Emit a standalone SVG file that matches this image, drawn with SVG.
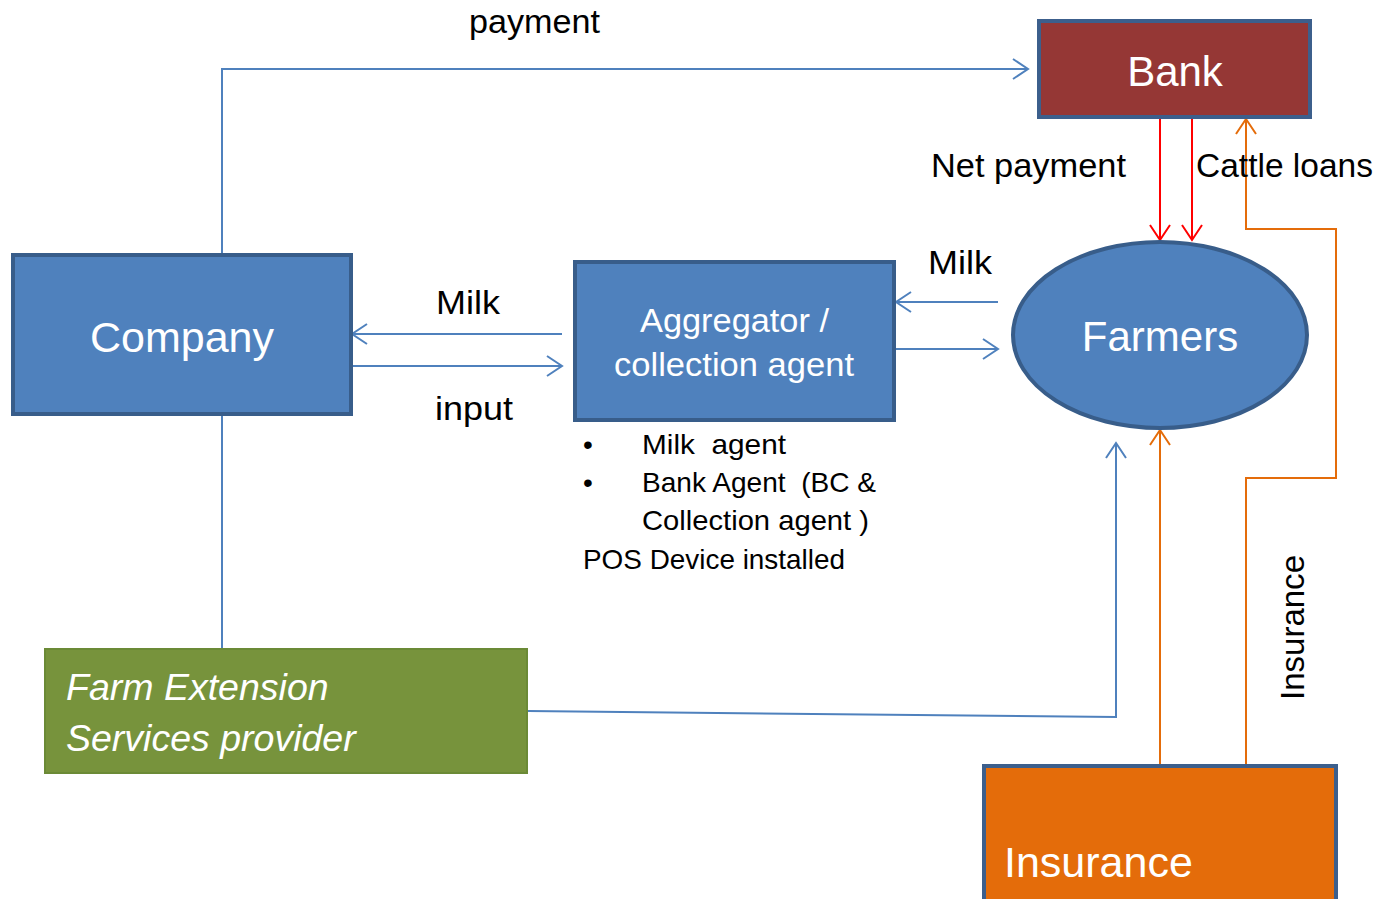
<svg xmlns="http://www.w3.org/2000/svg" width="1376" height="899" viewBox="0 0 1376 899">
<style>
.lbl{font-family:"Liberation Sans","Open Sans",sans-serif;fill:#000;font-size:34px}
.bul{font-family:"Liberation Sans","Open Sans",sans-serif;fill:#000;font-size:28px;white-space:pre}
.wt{font-family:"Liberation Sans","Open Sans",sans-serif;fill:#fff}
.blue{stroke:#4F81BD;stroke-width:2;fill:none}
.red{stroke:#FF0000;stroke-width:2;fill:none}
.org{stroke:#E46C0A;stroke-width:2;fill:none}
</style>
<defs>
<marker id="ab" markerUnits="userSpaceOnUse" markerWidth="20" markerHeight="24" refX="17" refY="11" orient="auto"><path d="M2,1 L17,11 L2,21" fill="none" stroke="#4F81BD" stroke-width="2"/></marker>
<marker id="ar" markerUnits="userSpaceOnUse" markerWidth="20" markerHeight="24" refX="17" refY="11" orient="auto"><path d="M2,1 L17,11 L2,21" fill="none" stroke="#FF0000" stroke-width="2"/></marker>
<marker id="ao" markerUnits="userSpaceOnUse" markerWidth="20" markerHeight="24" refX="17" refY="11" orient="auto"><path d="M2,1 L17,11 L2,21" fill="none" stroke="#E46C0A" stroke-width="2"/></marker>
</defs>
<rect width="1376" height="899" fill="#fff"/>
<g id="connectors">
<polyline class="blue" points="222,255 222,69 1028,69" marker-end="url(#ab)"/>
<line class="blue" x1="222" y1="414" x2="222" y2="648"/>
<line class="blue" x1="562" y1="334" x2="352" y2="334" marker-end="url(#ab)"/>
<line class="blue" x1="352" y1="366" x2="562" y2="366" marker-end="url(#ab)"/>
<line class="blue" x1="998" y1="302" x2="896" y2="302" marker-end="url(#ab)"/>
<line class="blue" x1="894" y1="349" x2="998" y2="349" marker-end="url(#ab)"/>
<polyline class="blue" points="528,711 1116,717 1116,443" marker-end="url(#ab)"/>
<line class="red" x1="1160" y1="118" x2="1160" y2="240" marker-end="url(#ar)"/>
<line class="red" x1="1192" y1="118" x2="1192" y2="240" marker-end="url(#ar)"/>
<polyline class="org" points="1246,765 1246,478 1336,478 1336,229 1246,229 1246,119" marker-end="url(#ao)"/>
<line class="org" x1="1160" y1="765" x2="1160" y2="430" marker-end="url(#ao)"/>
<text class="lbl" font-size="31" x="469" y="33" textLength="131" lengthAdjust="spacingAndGlyphs">payment</text>
<text class="lbl" x="436" y="314" textLength="64" lengthAdjust="spacingAndGlyphs">Milk</text>
<text class="lbl" x="435" y="420" textLength="78" lengthAdjust="spacingAndGlyphs">input</text>
<text class="lbl" x="928" y="274" textLength="64" lengthAdjust="spacingAndGlyphs">Milk</text>
<text class="lbl" x="931" y="177" textLength="195" lengthAdjust="spacingAndGlyphs">Net payment</text>
<text class="lbl" x="1196" y="177" textLength="177" lengthAdjust="spacingAndGlyphs">Cattle loans</text>
<text class="lbl" transform="translate(1304,700) rotate(-90)" textLength="145" lengthAdjust="spacingAndGlyphs">Insurance</text>
</g>
<g id="bank">
<rect x="1039" y="21" width="271" height="96" fill="#953735" stroke="#3C5F8C" stroke-width="4"/>
<text class="wt" x="1175" y="86" font-size="42" text-anchor="middle">Bank</text>
</g>
<g id="company">
<rect x="13" y="255" width="338" height="159" fill="#4F81BD" stroke="#385D8A" stroke-width="4"/>
<text class="wt" x="182" y="352" font-size="43" text-anchor="middle">Company</text>
</g>
<g id="aggregator">
<rect x="575" y="262" width="319" height="158" fill="#4F81BD" stroke="#385D8A" stroke-width="4"/>
<text class="wt" x="640" y="332" font-size="34" textLength="189" lengthAdjust="spacingAndGlyphs">Aggregator /</text>
<text class="wt" x="614" y="376" font-size="34" textLength="240" lengthAdjust="spacingAndGlyphs">collection agent</text>
</g>
<g id="farmers">
<ellipse cx="1160" cy="335" rx="147" ry="93" fill="#4F81BD" stroke="#385D8A" stroke-width="4"/>
<text class="wt" x="1160" y="351" font-size="42" text-anchor="middle">Farmers</text>
</g>
<g id="agent-notes">
<text class="bul" x="583" y="454">•</text>
<text class="bul" x="642" y="454" textLength="144" lengthAdjust="spacingAndGlyphs">Milk  agent</text>
<text class="bul" x="583" y="492">•</text>
<text class="bul" x="642" y="492" textLength="234" lengthAdjust="spacingAndGlyphs">Bank Agent  (BC &amp;</text>
<text class="bul" x="642" y="530" textLength="227" lengthAdjust="spacingAndGlyphs">Collection agent )</text>
<text class="bul" x="583" y="569" textLength="262" lengthAdjust="spacingAndGlyphs">POS Device installed</text>
</g>
<g id="farm-extension">
<rect x="45" y="649" width="482" height="124" fill="#77933C" stroke="#6B8A36" stroke-width="2"/>
<text class="wt" x="66" y="700" font-size="37.5" font-style="italic">Farm Extension</text>
<text class="wt" x="66" y="751" font-size="37.5" font-style="italic">Services provider</text>
</g>
<g id="insurance">
<rect x="984" y="766" width="352" height="140" fill="#E46C0A" stroke="#3C5F8C" stroke-width="4"/>
<text class="wt" x="1004" y="877" font-size="43">Insurance</text>
</g>
</svg>
